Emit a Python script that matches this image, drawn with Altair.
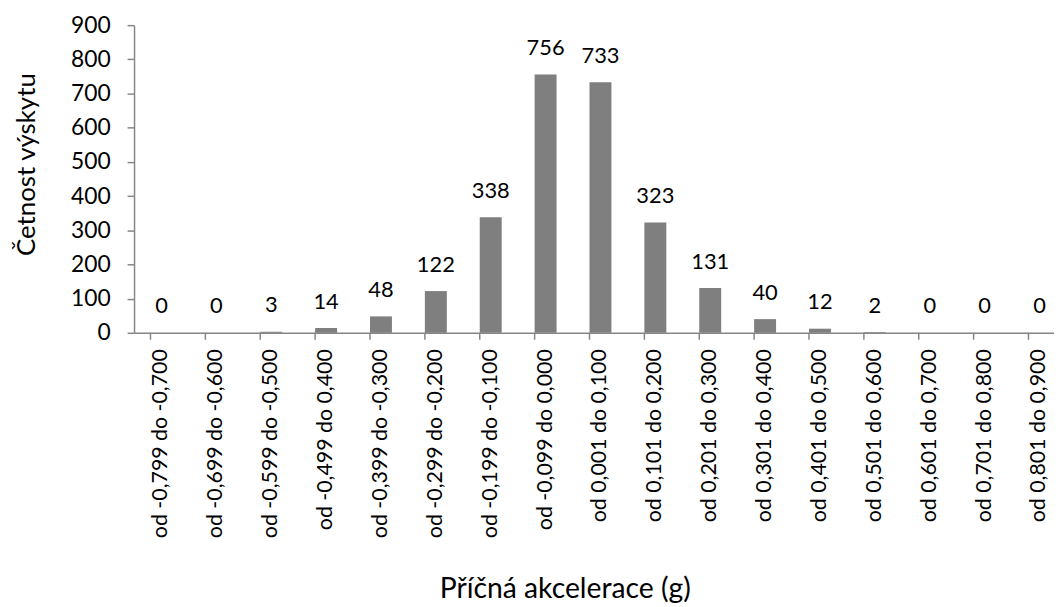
import altair as alt
import pandas as pd

categories = [
    "od -0,799 do -0,700", "od -0,699 do -0,600", "od -0,599 do -0,500",
    "od -0,499 do 0,400", "od -0,399  do -0,300", "od -0,299  do -0,200",
    "od -0,199 do -0,100", "od -0,099 do 0,000", "od 0,001 do 0,100",
    "od 0,101 do 0,200", "od 0,201 do 0,300", "od 0,301 do 0,400",
    "od 0,401 do 0,500", "od 0,501 do 0,600", "od 0,601 do 0,700",
    "od 0,701 do 0,800", "od 0,801 do 0,900",
]
counts = [0, 0, 3, 14, 48, 122, 338, 756, 733, 323, 131, 40, 12, 2, 0, 0, 0]
y_ticks = [0, 100, 200, 300, 400, 500, 600, 700, 800, 900]

df = pd.DataFrame({"cat": categories, "n": counts})

FONT = "Lato"
W, H = 927, 310
AXIS_COLOR = "#868686"

xscale = alt.Scale(domain=categories, range=[0, 940], paddingInner=0.6, paddingOuter=0.3)
yscale = alt.Scale(domain=[0, 900], nice=False, zero=True)

base = alt.Chart(df)

x_axis = alt.Axis(title="Příčná akcelerace (g)", labelAngle=-90, ticks=False,
                  labelPadding=16, labelFont=FONT, labelFontSize=21.5,
                  labelColor="#000000", labelLimit=400, labelOverlap=False,
                  domainColor=AXIS_COLOR, domainWidth=1.5,
                  titleFont=FONT, titleFontSize=28.5, titleFontWeight="normal",
                  titleColor="#000000", titleX=434, titleY=267,
                  titleAlign="center", titleBaseline="alphabetic",
                  grid=False)
y_axis = alt.Axis(title="Četnost výskytu", values=y_ticks, tickSize=7,
                  tickColor=AXIS_COLOR, tickWidth=1.5, labelOverlap=False,
                  domainColor=AXIS_COLOR, domainWidth=1.5,
                  labelPadding=17, labelFont=FONT, labelFontSize=23,
                  labelColor="#000000", labelBound=False, labelFlush=False,
                  titleFont=FONT, titleFontSize=26, titleFontWeight="normal",
                  titleColor="#000000", titleAngle=270, titleX=-108,
                  titleY=140, titleAlign="center", titleBaseline="middle",
                  grid=False)

bars = base.mark_bar(color="#7f7f7f").encode(
    x=alt.X("cat:N", scale=xscale, sort=None, axis=x_axis),
    y=alt.Y("n:Q", scale=yscale, axis=y_axis),
)

labels = base.mark_text(font=FONT, fontSize=22, color="#000000", baseline="alphabetic",
                        align="center", dy=-19.5).encode(
    x=alt.X("cat:N", scale=xscale, sort=None, axis=x_axis),
    y=alt.Y("n:Q", scale=yscale, axis=y_axis),
    text=alt.Text("n:Q"),
)

ticks = base.mark_rule(color=AXIS_COLOR, strokeWidth=1.5).encode(
    x=alt.X("cat:N", scale=xscale, sort=None, bandPosition=0, axis=x_axis),
    y=alt.value(H),
    y2=alt.value(H + 7),
)

chart = alt.layer(bars, labels, ticks).properties(
    width=W, height=H,
    background="#ffffff",
    autosize=alt.AutoSizeParams(type="none"),
    padding={"left": 127, "top": 15, "right": 0, "bottom": 272},
).configure_view(strokeWidth=0)

chart.save("out.html", embed_options={"renderer": "svg", "actions": False})
